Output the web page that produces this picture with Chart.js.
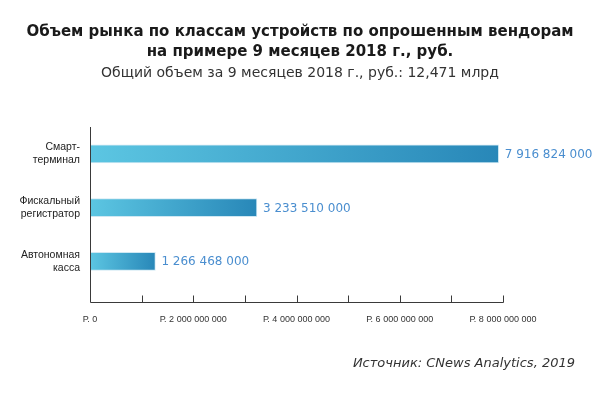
<!DOCTYPE html>
<html>
<head>
<meta charset="utf-8">
<script src="https://cdn.jsdelivr.net/npm/chart.js@4"></script>
<style>
  body { margin: 0; background: #fff; }
  #wrap { position: relative; width: 600px; height: 399px; }
  .hdr { position: absolute; left: 0; width: 600px; text-align: center; font-family: "DejaVu Sans", sans-serif; }
  #title { top: 21px; font-size: 15px; font-weight: bold; line-height: 20px; color: #1a1a1a; }
  #subtitle { top: 63px; font-size: 14px; line-height: 18px; color: #333; }
  #source {
    position: absolute; right: 25px; top: 355px;
    font: italic 13px "DejaVu Sans", sans-serif; color: #333;
  }
</style>
</head>
<body>
<div id="wrap">
  <canvas id="barChart"></canvas>
  <div id="title" class="hdr">Объем рынка по классам устройств по опрошенным вендорам<br>на примере 9 месяцев 2018 г., руб.</div>
  <div id="subtitle" class="hdr">Общий объем за 9 месяцев 2018 г., руб.: 12,471 млрд</div>
  <div id="source">Источник: CNews Analytics, 2019</div>
</div>
<script>
const categories = [['Смарт-', 'терминал'], ['Фискальный', 'регистратор'], ['Автономная', 'касса']];
const values = [7916824000, 3233510000, 1266468000];
const tickStep = 1000000000;
const tickMax = 8000000000;

const fmt = v => String(v).replace(/\B(?=(\d{3})+(?!\d))/g, ' ');

// подписи значений справа от столбцов
const valueLabels = {
    id: 'valueLabels',
    afterDatasetsDraw(chart) {
        const c = chart.ctx;
        c.save();
        c.font = '12px "DejaVu Sans", sans-serif';
        c.fillStyle = '#4a8ecf';
        c.textBaseline = 'middle';
        chart.getDatasetMeta(0).data.forEach((bar, i) => {
            c.fillText(fmt(values[i]), bar.x + 6, bar.y + 1);
        });
        c.restore();
    }
};

// оси рисуем сами: линия X ниже области столбцов, засечки вверх
const axisLines = {
    id: 'axisLines',
    afterDraw(chart) {
        const c = chart.ctx;
        const x = chart.scales.x;
        const area = chart.chartArea;
        const y0 = Math.round(area.bottom + 14) + 0.5;
        const x0 = Math.round(x.getPixelForValue(0)) + 0.5;
        c.save();
        c.strokeStyle = '#3a3a3a';
        c.lineWidth = 1;
        c.beginPath();
        c.moveTo(x0, area.top);
        c.lineTo(x0, y0);
        c.lineTo(Math.round(x.getPixelForValue(tickMax)) + 0.5, y0);
        for (let v = tickStep; v <= tickMax; v += tickStep) {
            const px = Math.round(x.getPixelForValue(v)) + 0.5;
            c.moveTo(px, y0);
            c.lineTo(px, y0 - 7);
        }
        c.stroke();
        c.restore();
    }
};

const ctxBar = document.getElementById('barChart').getContext('2d');
const barChart = new Chart(ctxBar, {
    type: 'bar',
    data: {
        labels: categories,
        datasets: [{
            data: values,
            barThickness: 18,
            borderWidth: 1,
            borderSkipped: false,
            borderColor: '#cfe8f3',
            backgroundColor: (ctx) => {
                const chart = ctx.chart;
                if (!chart.chartArea || ctx.type !== 'data') return '#4fb6d8';
                const x0 = chart.scales.x.getPixelForValue(0);
                const x1 = chart.scales.x.getPixelForValue(ctx.raw);
                const g = chart.ctx.createLinearGradient(x0, 0, x1, 0);
                g.addColorStop(0, '#5cc6e2');
                g.addColorStop(1, '#2887b8');
                return g;
            }
        }]
    },
    options: {
        indexAxis: 'y',
        responsive: true,
        maintainAspectRatio: false,
        animation: false,
        layout: { padding: { top: 127, right: 97, bottom: 48, left: 0 } },
        plugins: {
            legend: { display: false },
            tooltip: { enabled: false }
        },
        scales: {
            x: {
                min: 0,
                max: tickMax,
                grid: { display: false, drawTicks: false },
                border: { display: false },
                ticks: {
                    stepSize: tickStep,
                    autoSkip: false,
                    maxRotation: 0,
                    padding: 26,
                    color: '#333',
                    font: { family: '"Liberation Sans", Arial, sans-serif', size: 9 },
                    callback: v => v % (2 * tickStep) === 0 ? 'Р. ' + fmt(v) : ''
                }
            },
            y: {
                grid: { display: false, drawTicks: false },
                border: { display: false },
                afterFit: s => { s.width = 90; },
                ticks: {
                    padding: 10,
                    color: '#222',
                    font: { family: '"Liberation Sans", Arial, sans-serif', size: 10.5, lineHeight: 1.25 }
                }
            }
        }
    },
    plugins: [valueLabels, axisLines]
});
</script>
</body>
</html>
